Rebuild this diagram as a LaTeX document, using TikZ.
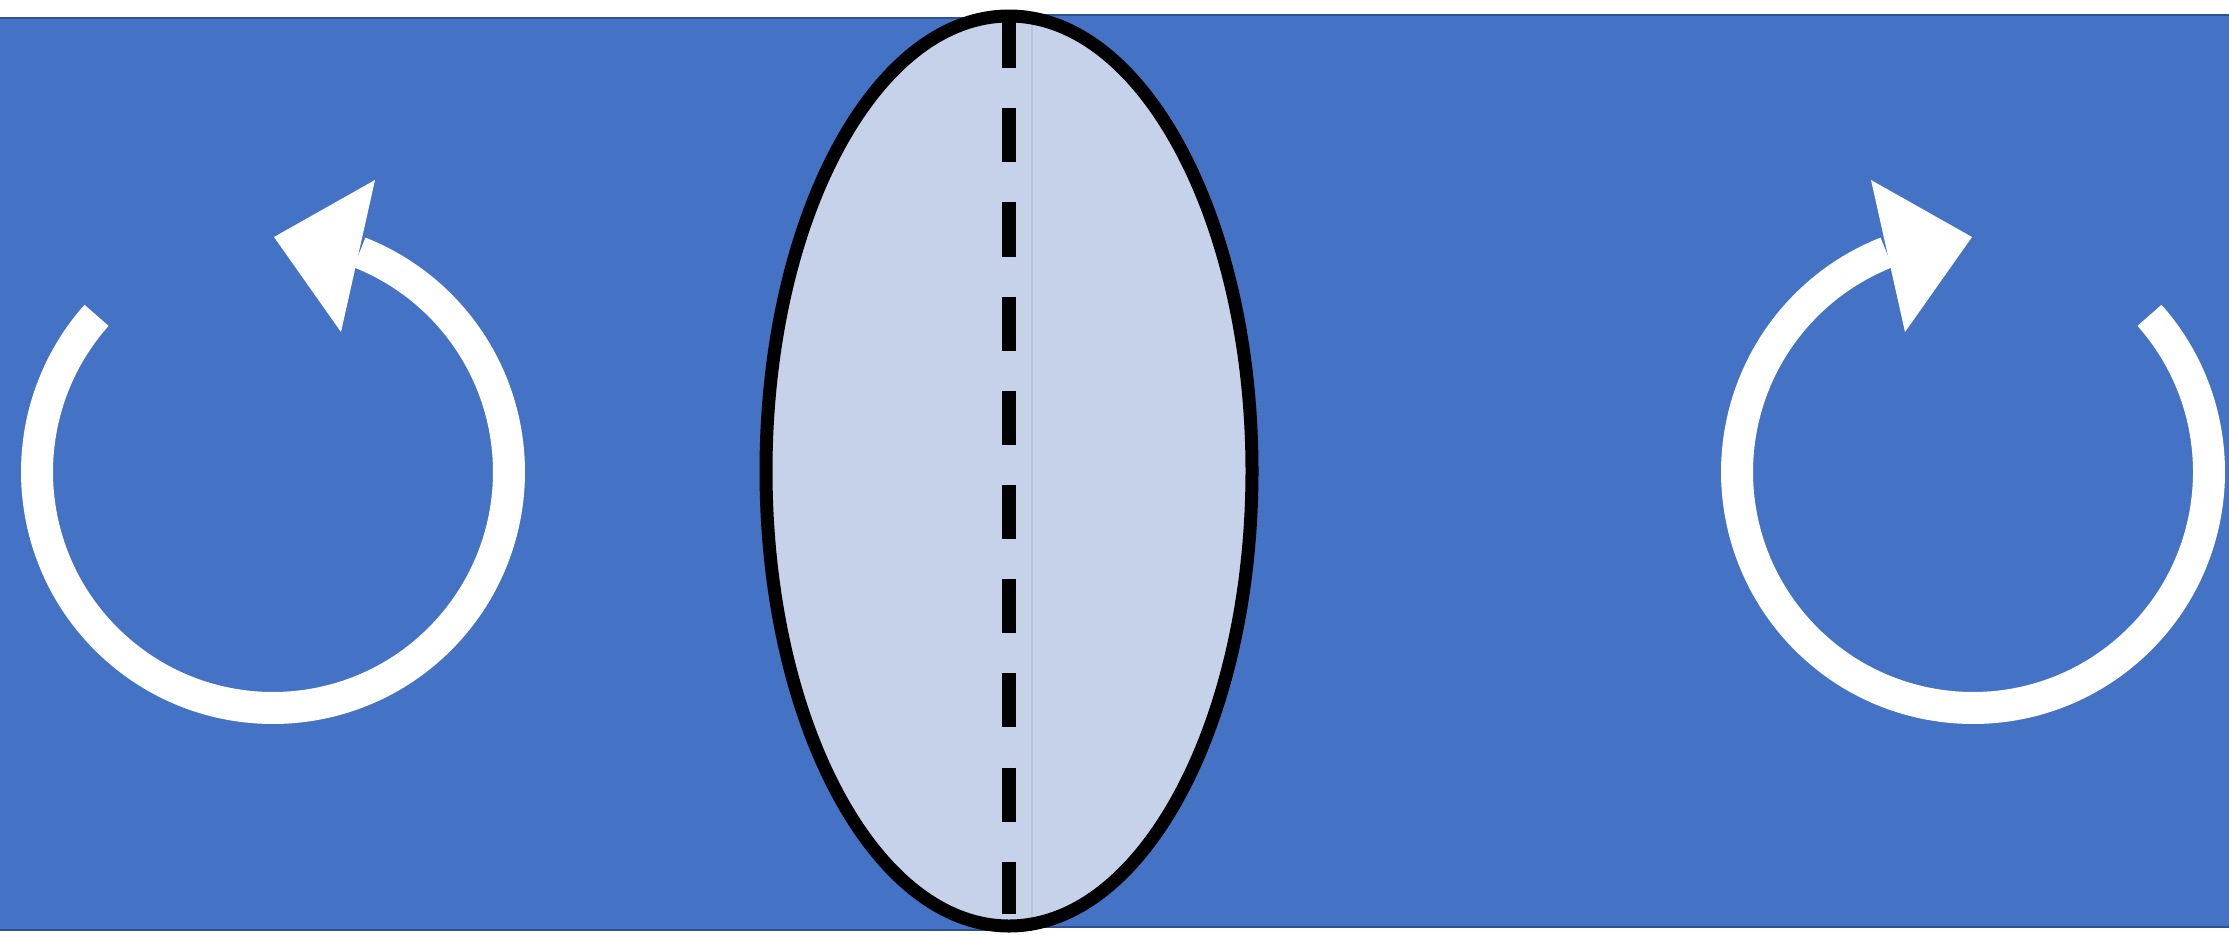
\documentclass[tikz,border=0pt]{standalone}
\usepackage{xcolor}
\definecolor{flowblue}{HTML}{4472C4}
\definecolor{flowedge}{HTML}{2F528F}
\definecolor{discfill}{HTML}{C5D2EA}
\definecolor{discseam}{HTML}{B9C4DA}

\begin{document}
\begin{tikzpicture}[x=0.1mm,y=-0.1mm,
    band/.style={fill=flowblue},
    bandedge/.style={flowedge,line width=0.6pt},
    swirl/.style={white,line width=9.1pt},
    swirlhead/.style={fill=white}]
  \useasboundingbox (0,0) rectangle (2229,934);
  \fill[band] (0,18) rectangle (1032,930);
  \fill[band] (1032,15) rectangle (2229,927);
  \draw[bandedge] (0,18)--(1032,18) (0,930)--(1032,930);
  \draw[bandedge] (1032,15)--(2229,15) (1032,927)--(2229,927);
  \coordinate (L) at (273,472);
  \coordinate (R) at (1973,472);
  \coordinate (D) at (1009,471);
  \draw[swirl] (L) ++(221.6:236) arc[start angle=221.6,end angle=-68.5,radius=236];
  \fill[swirlhead] (375,180)--(274,237)--(341,332)--cycle;
  \draw[swirl] (R) ++(-41.6:236) arc[start angle=-41.6,end angle=248.5,radius=236];
  \fill[swirlhead] (1871,180)--(1972,237)--(1905,332)--cycle;
  \fill[discfill] (D) ellipse[x radius=243,y radius=455];
  \draw[discseam,line width=0.3pt] (1032,20)--(1032,922);
  \draw[line width=3.8pt,dash pattern=on 15.4pt off 11.4pt] (1009,14)--(1009,914);
  \draw[line width=3.7pt] (D) ellipse[x radius=243,y radius=455];
\end{tikzpicture}
\end{document}
